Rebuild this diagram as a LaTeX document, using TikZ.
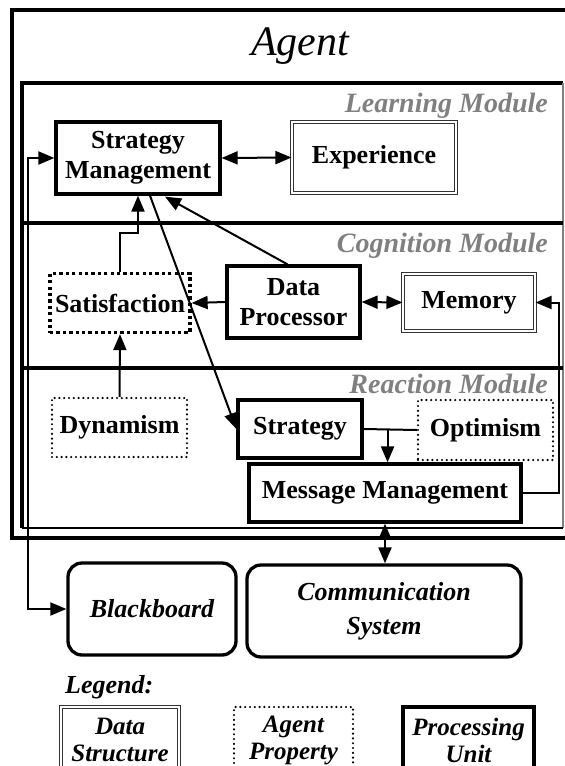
\documentclass[tikz,border=0pt]{standalone}
\usepackage{fontspec}
\setmainfont{Liberation Serif}
\usetikzlibrary{arrows.meta,calc}
\tikzset{
  x=1pt, y=-1pt,
  boxtext/.style={font=\bfseries\fontsize{26}{30}\selectfont, align=center, inner sep=0pt},
  proc/.style={boxtext, draw, line width=3.3pt},
  dstruct/.style={boxtext, draw=black!80, double=white, double distance=2.4pt, line width=1.1pt},
  prop/.style={boxtext, draw, line width=2.4pt, line cap=round, dash pattern=on 0pt off 4.8pt},
  propsq/.style={boxtext, draw, line width=3.3pt, dash pattern=on 3.3pt off 3.1pt},
  extbox/.style={draw, line width=3.3pt, rounded corners=14pt, font=\bfseries\itshape\fontsize{26}{34}\selectfont, align=center, inner sep=0pt},
  legtext/.style={font=\bfseries\itshape\fontsize{25}{27}\selectfont, align=center, inner sep=0pt},
  conn/.style={line width=2pt},
  tip/.tip={Triangle[length=16pt,width=13pt]},
  arr/.style={conn, -tip},
  darr/.style={conn, tip-tip},
  modlabel/.style={font=\bfseries\itshape\fontsize{28}{30}\selectfont, text=black!50, anchor=base east, inner sep=0pt},
  frameline/.style={line width=3.3pt},
}
\begin{document}
\begin{tikzpicture}
\useasboundingbox (0,0) rectangle (565,766);
\clip (0,0) rectangle (565,766);
% outer agent frame
\draw[line width=3.6pt] (12,10) rectangle (590,538);
\node[font=\itshape\fontsize{42}{44}\selectfont, anchor=base, inner sep=0pt] (agent) at (300,55) {Agent};
% module frame
\draw[frameline] (22,528) -- (22,83) -- (563,83);
\draw[black!50, line width=1.2pt] (563,83) -- (563,528);
\draw[line width=2pt] (22,528) -- (563,528);
\draw[frameline] (22,223) -- (563,223);
\draw[frameline] (22,368) -- (563,368);
\node[modlabel] (lm) at (548,112) {Learning Module};
\node[modlabel] (cm) at (548,252) {Cognition Module};
\node[modlabel] (rm) at (548,393) {Reaction Module};
% nodes
\node[proc, minimum width=164pt, minimum height=72pt] (SM) at (138,158) {Strategy\\Management};
\node[dstruct, minimum width=164pt, minimum height=71pt] (Exp) at (374,157.5) {Experience};
\node[propsq, minimum width=140pt, minimum height=59pt] (Sat) at (120,303) {Satisfaction};
\node[proc, minimum width=133pt, minimum height=72pt] (DP) at (293.5,302) {Data\\Processor};
\node[dstruct, minimum width=132pt, minimum height=57pt] (Mem) at (469,302.5) {Memory};
\node[prop, minimum width=135pt, minimum height=59pt] (Dyn) at (119.5,427.5) {Dynamism};
\node[proc, minimum width=124pt, minimum height=58pt] (Str) at (300,429) {Strategy};
\node[prop, minimum width=135pt, minimum height=60pt] (Opt) at (485.5,430) {Optimism};
\node[proc, minimum width=272pt, minimum height=58pt] (MM) at (385,493) {Message Management};
\node[extbox, minimum width=168pt, minimum height=92pt] (BB) at (152,609) {Blackboard};
\node[extbox, minimum width=274pt, minimum height=92pt] (CS) at (384,611) {Communication\\System};
% legend
\node[font=\bfseries\itshape\fontsize{26}{28}\selectfont, anchor=base west, inner sep=0pt] (leg) at (65,693) {Legend:};
\node[legtext, draw=black!80, double=white, double distance=2.4pt, line width=1.1pt, minimum width=118pt, minimum height=66pt] (LDS) at (120,740) {Data\\Structure};
\node[legtext, draw, line width=2.4pt, line cap=round, dash pattern=on 0pt off 4.8pt, minimum width=119pt, minimum height=66pt] (LAP) at (293.5,740) {Agent\\Property};
\node[legtext, draw, line width=3.3pt, minimum width=131pt, minimum height=66pt] (LPU) at (468.5,740) {Processing\\Unit};
% connectors
\draw[darr] (SM.east) -- (Exp.west);
\draw[darr] (SM.west) -- ++(-26,0) |- (BB.west);
\draw[arr] (Sat.north) -- ++(0,-39) -| (SM.south);
\draw[arr] ([xshift=-6pt]DP.north) -- ([xshift=27pt,yshift=-1pt]SM.south);
\draw[arr] ([xshift=12pt]SM.south) -- (Str.west);
\draw[arr] (DP.west) -- (Sat.east);
\draw[darr] (DP.east) -- (Mem.west);
\draw[arr] (Dyn.north) -- (Sat.south);
\draw[conn] (Str.east) -- (Opt.west);
\coordinate (mid) at ($(Str.east)!0.45!(Opt.west)$);
\draw[arr] (mid) -- (mid |- MM.north);
\draw[arr] (MM.east) -- ++(36,0) |- (Mem.east);
\draw[darr] (MM.south) -- (MM.south |- CS.north);
\end{tikzpicture}
\end{document}
